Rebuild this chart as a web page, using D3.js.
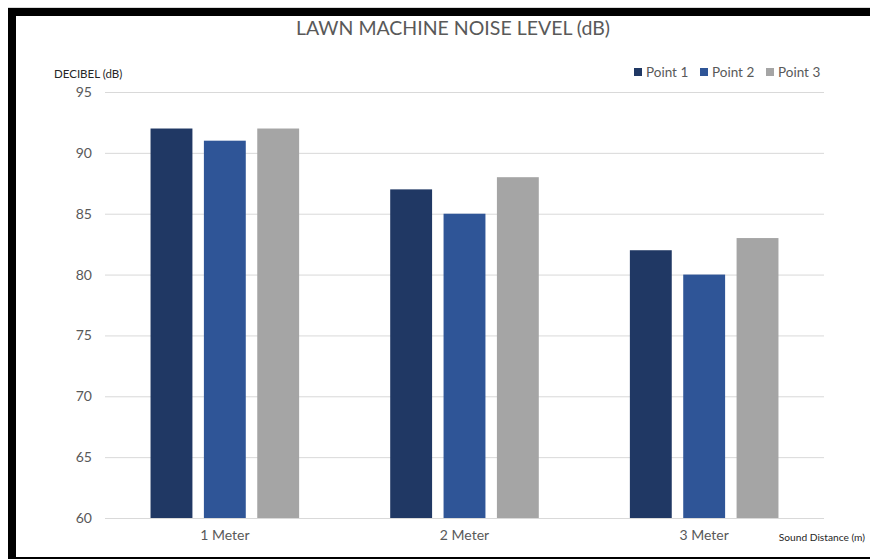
<!DOCTYPE html>
<html>
<head>
<meta charset="utf-8">
<script src="https://cdn.jsdelivr.net/npm/d3@7"></script>
<style>
  html, body { margin: 0; padding: 0; background: #fff; }
  svg { display: block; font-family: Lato, "Open Sans", sans-serif; }
  .tick text { fill: #595959; }
</style>
</head>
<body>
<div id="chart"></div>
<script>
// chart data
const categories = ["1 Meter", "2 Meter", "3 Meter"];
const seriesNames = ["Point 1", "Point 2", "Point 3"];
const point1 = [92, 87, 82];
const point2 = [91, 85, 80];
const point3 = [92, 88, 83];
const yTicks = [60, 65, 70, 75, 80, 85, 90, 95];

const COLORS = ["#203864", "#2f5597", "#a5a5a5"];

(function () {
  const W = 870, H = 559;
  const plot = { left: 105, right: 824, top: 92, bottom: 518 };

  const svg = d3.select("#chart").append("svg")
    .attr("width", W).attr("height", H);

  // frame around the chart (screenshot borders)
  svg.append("rect").attr("x", 0).attr("y", 0).attr("width", W).attr("height", H).attr("fill", "#fff");
  svg.append("rect").attr("x", 8).attr("y", 7).attr("width", W - 8).attr("height", 1).attr("fill", "#d9d9d9");
  svg.append("rect").attr("x", 8).attr("y", 8).attr("width", W - 8).attr("height", 8).attr("fill", "#000");
  svg.append("rect").attr("x", 8).attr("y", 8).attr("width", 8).attr("height", H - 8).attr("fill", "#000");
  svg.append("rect").attr("x", 8).attr("y", 557).attr("width", W - 8).attr("height", 2).attr("fill", "#000");

  const rows = categories.map((c, i) => ({
    cat: c,
    values: [point1[i], point2[i], point3[i]]
  }));

  const x0 = d3.scaleBand()
    .domain(categories)
    .range([plot.left, plot.right])
    .padding(0);

  const groupW = x0.bandwidth() * 0.62;
  const x1 = d3.scaleBand()
    .domain(seriesNames)
    .range([0, groupW])
    .paddingInner(0.215);

  const y = d3.scaleLinear()
    .domain([60, 95])
    .range([plot.bottom, plot.top]);

  // gridlines
  svg.append("g")
    .attr("transform", `translate(${plot.left},0)`)
    .call(d3.axisLeft(y).tickValues(yTicks).tickSize(-(plot.right - plot.left)).tickFormat(""))
    .call(g => g.select(".domain").remove())
    .call(g => g.selectAll("line").attr("stroke", "#d9d9d9").attr("stroke-width", 1));

  // y axis labels
  svg.append("g")
    .attr("transform", `translate(${plot.left},0)`)
    .call(d3.axisLeft(y).tickValues(yTicks).tickSize(0).tickPadding(13))
    .call(g => g.select(".domain").remove())
    .call(g => g.selectAll("text").attr("font-size", 14).attr("font-family", "Lato, sans-serif"));

  // bars
  const groups = svg.selectAll(".grp")
    .data(rows)
    .join("g")
    .attr("class", "grp")
    .attr("transform", d => `translate(${x0(d.cat) + (x0.bandwidth() - groupW) / 2},0)`);

  groups.selectAll("rect")
    .data(d => d.values.map((v, i) => ({ s: seriesNames[i], v: v, i: i })))
    .join("rect")
    .attr("x", d => x1(d.s))
    .attr("width", x1.bandwidth())
    .attr("y", d => y(d.v))
    .attr("height", d => y(60) - y(d.v))
    .attr("fill", d => COLORS[d.i]);

  // x axis labels
  svg.append("g")
    .attr("transform", `translate(0,${plot.bottom})`)
    .call(d3.axisBottom(x0).tickSize(0).tickPadding(12))
    .call(g => g.select(".domain").remove())
    .call(g => g.selectAll("text").attr("font-size", 14).attr("font-family", "Lato, sans-serif"));

  // title
  svg.append("text")
    .attr("x", 453).attr("y", 35)
    .attr("text-anchor", "middle")
    .attr("font-size", 19.5)
    .attr("fill", "#595959")
    .text("LAWN MACHINE NOISE LEVEL (dB)");

  // axis titles
  svg.append("text")
    .attr("x", 54).attr("y", 78)
    .attr("font-size", 11.5)
    .attr("fill", "#262626")
    .text("DECIBEL (dB)");

  svg.append("text")
    .attr("x", 865).attr("y", 541)
    .attr("text-anchor", "end")
    .attr("font-size", 10.2)
    .attr("fill", "#262626")
    .text("Sound Distance (m)");

  // legend
  const legendX = [634, 700, 766];
  const legend = svg.append("g").attr("class", "legend");
  seriesNames.forEach((s, i) => {
    const item = legend.append("g").attr("transform", `translate(${legendX[i]},72)`);
    item.append("rect")
      .attr("x", 0).attr("y", -4).attr("width", 8).attr("height", 8)
      .attr("fill", COLORS[i]);
    item.append("text")
      .attr("x", 12).attr("y", 5)
      .attr("font-size", 13.5)
      .attr("fill", "#595959")
      .text(s);
  });
})();
</script>
</body>
</html>
